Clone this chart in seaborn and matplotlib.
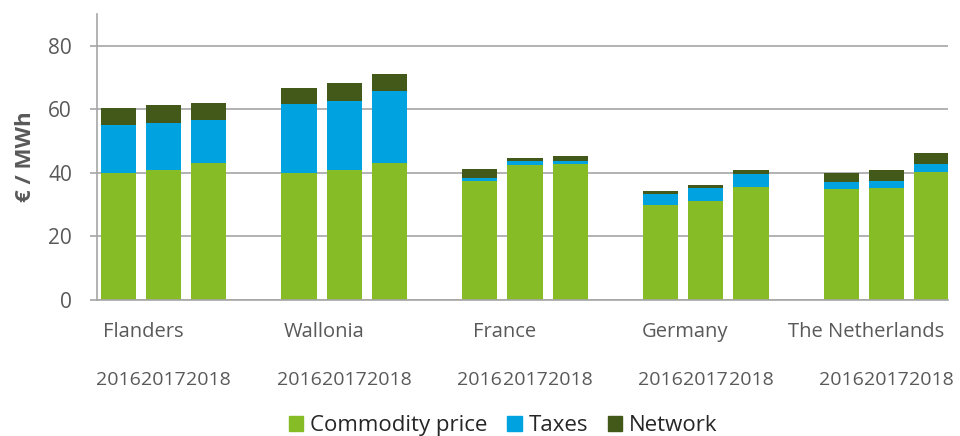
import pandas as pd
import matplotlib.pyplot as plt
import matplotlib.transforms as mtransforms
from matplotlib.patches import Patch
import seaborn as sns

# data (EUR / MWh)
regions = ["Flanders", "Wallonia", "France", "Germany", "The Netherlands"]
years = ["2016", "2017", "2018"]
commodity = [40.0, 41.0, 43.0, 40.0, 41.0, 43.0, 37.3, 42.4, 42.8,
             29.8, 31.0, 35.5, 34.9, 35.2, 40.2]
taxes = [15.2, 14.7, 13.5, 21.6, 21.7, 22.7, 1.0, 1.2, 1.0,
         3.6, 4.1, 4.1, 2.1, 2.2, 2.5]
network = [5.3, 5.5, 5.5, 5.1, 5.5, 5.5, 3.0, 1.0, 1.6,
           0.8, 1.0, 1.2, 3.1, 3.5, 3.6]

c_green = "#86BC25"
c_blue = "#00A3E0"
c_dark = "#43591A"
txt = "#595959"
grid = "#A6A6A6"

rows = []
for g, reg in enumerate(regions):
    for i, yr in enumerate(years):
        k = g * 3 + i
        rows.append({"region": reg, "year": yr, "pos": g * 4 + i,
                     "commodity": commodity[k],
                     "taxes_top": commodity[k] + taxes[k],
                     "total": commodity[k] + taxes[k] + network[k]})
df = pd.DataFrame(rows)

sns.set_style("white")
plt.rcParams["font.family"] = ["Open Sans", "DejaVu Sans"]

fig = plt.figure(figsize=(9.6, 4.36), dpi=100)
ax = fig.add_axes([0.101, 0.312, 0.887, 0.656])

# stacked look: draw cumulative layers from the top down
for col, colr in [("total", c_dark), ("taxes_top", c_blue), ("commodity", c_green)]:
    sns.barplot(data=df, x="pos", y=col, native_scale=True, width=0.78,
                color=colr, saturation=1, edgecolor="none", errorbar=None, ax=ax)

ax.set_xlim(-0.47, 18.37)
ax.set_ylim(0, 90)
ax.set_yticks([0, 20, 40, 60, 80])
ax.yaxis.grid(True, color=grid, linewidth=1.2)
ax.set_axisbelow(True)
ax.tick_params(axis="y", labelsize=15, labelcolor=txt, color=grid,
               length=5, width=1.2, pad=13, left=True)
ax.set_xticks([])
ax.set_xlabel("")
ax.set_ylabel("€ / MWh", fontsize=16, color=txt, fontweight="bold", labelpad=9)
for s in ["top", "right"]:
    ax.spines[s].set_visible(False)
for s in ["left", "bottom"]:
    ax.spines[s].set_color(grid)
    ax.spines[s].set_linewidth(1.2)

trans = mtransforms.blended_transform_factory(ax.transData, ax.transAxes)
for g, reg in enumerate(regions):
    ax.text(g * 4 + 1 - 0.45, -0.112, reg, transform=trans, ha="center",
            va="center", fontsize=14.5, color=txt)
    for i, yr in enumerate(years):
        ax.text(g * 4 + i, -0.28, yr, transform=trans, ha="center",
                va="center", fontsize=14, color=txt)

handles = [Patch(color=c_green, label="Commodity price"),
           Patch(color=c_blue, label="Taxes"),
           Patch(color=c_dark, label="Network")]
fig.legend(handles=handles, loc="center", bbox_to_anchor=(0.524, 0.024),
           ncol=3, frameon=False, fontsize=16, handlelength=0.65,
           handleheight=0.65, handletextpad=0.3, columnspacing=0.9,
           labelcolor="#262626")

fig.savefig("out.png", dpi=100)
